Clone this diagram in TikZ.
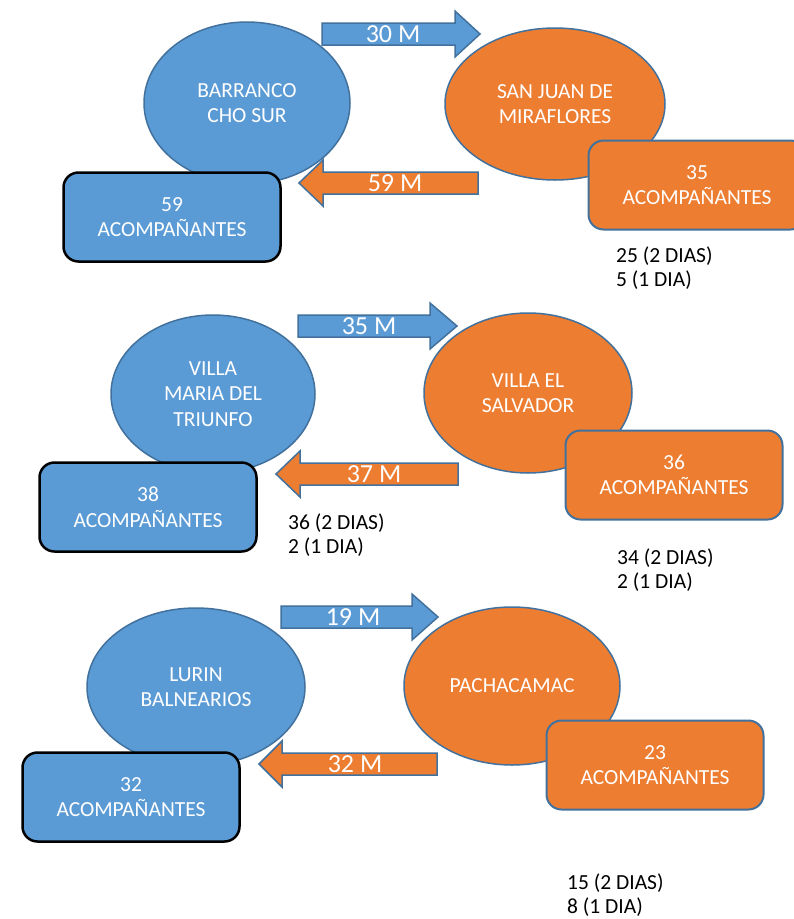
\documentclass[tikz,border=0pt]{standalone}
\usepackage{fontspec}
\setmainfont{Carlito}
\usetikzlibrary{shapes.geometric}
\definecolor{fblue}{HTML}{5B9BD5}
\definecolor{forange}{HTML}{ED7D31}
\definecolor{eblue}{HTML}{41719C}
\tikzset{
  bub/.style={ellipse, draw=eblue, line width=1.5pt, inner sep=0pt, text=white, align=center, font=\fontsize{21.5}{25.5}\selectfont},
  bluebub/.style={bub, fill=fblue},
  orbub/.style={bub, fill=forange},
  cbox/.style={rounded corners=15pt, minimum width=217pt, minimum height=89pt, inner sep=0pt, text=white, align=center, font=\fontsize{21.5}{25.5}\selectfont},
  bluebox/.style={cbox, fill=fblue, draw=black, line width=2.5pt},
  orbox/.style={cbox, fill=forange, draw=eblue, line width=2pt},
  barr/.style={draw=eblue, line width=1.5pt, line join=miter},
  arrlabel/.style={text=white, inner sep=0pt, font=\fontsize{26}{30}\selectfont},
  note/.style={anchor=west, align=left, inner sep=0pt, font=\fontsize{21.5}{24.5}\selectfont}
}
% right block arrow: #1 fill, #2 x start, #3 head back, #4 tip, #5 y centre
\newcommand\myrarrow[5]{%
  \fill[#1] (#2,#5-11) -- (#3,#5-11) -- (#3,#5-23) -- (#4,#5) -- (#3,#5+23) -- (#3,#5+11) -- (#2,#5+11) -- cycle;
  \draw[barr] (#2,#5-11) -- (#3,#5-11) -- (#3,#5-23) -- (#4,#5) -- (#3,#5+23) -- (#3,#5+11) -- (#2,#5+11) -- cycle;}
% left block arrow: #1 fill, #2 tip, #3 head back, #4 x end, #5 y centre
\newcommand\mylarrow[5]{%
  \fill[#1] (#4,#5-11) -- (#3,#5-11) -- (#3,#5-23) -- (#2,#5) -- (#3,#5+23) -- (#3,#5+11) -- (#4,#5+11) -- cycle;
  \draw[barr] (#4,#5-11) -- (#3,#5-11) -- (#3,#5-23) -- (#2,#5) -- (#3,#5+23) -- (#3,#5+11) -- (#4,#5+11) -- cycle;}
\begin{document}
\begin{tikzpicture}[x=1pt,y=-1pt]
\clip (0,0) rectangle (794,919);
\fill[white] (0,0) rectangle (794,919);

% ---------- row 1 ----------
\node[bluebub, minimum width=206pt, minimum height=162pt] (barranco) at (247,103) {BARRANCO\\CHO SUR};
\node[orbub, minimum width=220pt, minimum height=152pt] (sanjuan) at (555,104) {SAN JUAN DE\\MIRAFLORES};
\myrarrow{fblue}{322}{455}{480}{34}
\node[arrlabel] (l30) at (393,34) {30 M};
\mylarrow{forange}{299}{323}{478}{183}
\node[arrlabel] (l59) at (395,183) {59 M};
\node[bluebox] (b59) at (172,217) {59\\ACOMPAÑANTES};
\node[orbox] (b35) at (697,185) {35\\ACOMPAÑANTES};
\node[note] (n1) at (616,268) {25 (2 DIAS)\\5 (1 DIA)};

% ---------- row 2 ----------
\node[bluebub, minimum width=204pt, minimum height=158pt] (vmt) at (213,394) {VILLA\\MARIA DEL\\TRIUNFO};
\node[orbub, minimum width=208pt, minimum height=160pt] (ves) at (528,393) {VILLA EL\\SALVADOR};
\myrarrow{fblue}{298}{430}{457}{326}
\node[arrlabel] (l35) at (369,326) {35 M};
\mylarrow{forange}{276}{300}{458}{474}
\node[arrlabel] (l37) at (374,474) {37 M};
\node[bluebox] (b38) at (148,507) {38\\ACOMPAÑANTES};
\node[orbox] (b36) at (674,475) {36\\ACOMPAÑANTES};
\node[note] (n2) at (288,535) {36 (2 DIAS)\\2 (1 DIA)};
\node[note] (n3) at (617,570) {34 (2 DIAS)\\2 (1 DIA)};

% ---------- row 3 ----------
\node[bluebub, minimum width=218pt, minimum height=158pt] (lurin) at (196,687) {LURIN\\BALNEARIOS};
\node[orbub, minimum width=216pt, minimum height=158pt] (pacha) at (512,686) {PACHACAMAC};
\myrarrow{fblue}{281}{412}{438}{617}
\node[arrlabel] (l19) at (353,617) {19 M};
\mylarrow{forange}{259}{282}{437}{764}
\node[arrlabel] (l32) at (355,764) {32 M};
\node[bluebox] (b32) at (131,797) {32\\ACOMPAÑANTES};
\node[orbox] (b23) at (655,765) {23\\ACOMPAÑANTES};
\node[note] (n4) at (567,895) {15 (2 DIAS)\\8 (1 DIA)};
\end{tikzpicture}
\end{document}
